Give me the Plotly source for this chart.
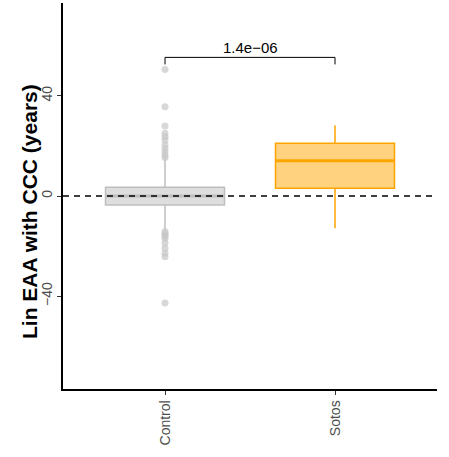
import plotly.graph_objects as go

# Group summary statistics (years)
groups = ["Control", "Sotos"]
q1 = [-3.6, 3.1]
median = [0.0, 14.1]
q3 = [3.5, 21.0]
lower_fence = [-13.5, -12.9]
upper_fence = [15.1, 28.2]

# Control outliers
control_outliers = [50.5, 35.6, 27.9, 25.0, 23.6, 22.3, 20.3, 19.0, 17.6, 16.3, 15.4,
                    -14.2, -15.0, -15.5, -16.2, -16.9, -18.8, -20.8, -22.8, -24.2, -42.7]

# Significance annotation
p_label = "1.4e\u221206"
bracket_y = 55.3
bracket_tip = 52.5

y_title = "Lin EAA with CCC (years)"

fill_colors = ["rgba(190,190,190,0.5)", "rgba(255,165,0,0.5)"]
line_colors = ["#BEBEBE", "#FFA500"]
box_width = 0.7

fig = go.Figure()

for i, g in enumerate(groups):
    fig.add_trace(go.Box(
        x=[g], q1=[q1[i]], median=[median[i]], q3=[q3[i]],
        lowerfence=[lower_fence[i]], upperfence=[upper_fence[i]],
        fillcolor=fill_colors[i], line=dict(color=line_colors[i], width=1.5),
        whiskerwidth=0, width=box_width, boxpoints=False, showlegend=False,
        hoverinfo="skip",
    ))
    # heavier median bar
    fig.add_shape(type="line", xref="x", yref="y",
                  x0=i - box_width / 2, x1=i + box_width / 2,
                  y0=median[i], y1=median[i],
                  line=dict(color=line_colors[i], width=3))

fig.add_trace(go.Scatter(
    x=["Control"] * len(control_outliers), y=control_outliers, mode="markers",
    marker=dict(color="rgba(200,200,200,0.7)", size=7, line=dict(width=0)),
    showlegend=False, hoverinfo="skip",
))

# Reference line at zero
fig.add_shape(type="line", xref="paper", x0=0, x1=1, yref="y", y0=0, y1=0,
              line=dict(color="black", width=1.5, dash="6px,5px"))

# Bracket
fig.add_trace(go.Scatter(
    x=["Control", "Control", "Sotos", "Sotos"],
    y=[bracket_tip, bracket_y, bracket_y, bracket_tip],
    mode="lines", line=dict(color="black", width=1),
    showlegend=False, hoverinfo="skip",
))
fig.add_annotation(x=0.5, y=bracket_y, xref="x", yref="y", text=p_label,
                   showarrow=False, yanchor="bottom", yshift=-1,
                   font=dict(family="Liberation Sans, Arial", size=15, color="black"))

# Y-axis title
fig.add_annotation(x=-0.091, y=0.461, xref="paper", yref="paper",
                   text=f"<b>{y_title}</b>", textangle=-90, showarrow=False,
                   xanchor="center", yanchor="middle",
                   font=dict(family="Liberation Sans, Arial", size=21, color="black"))

fig.update_layout(
    width=449, height=457,
    margin=dict(l=63, r=12, t=3, b=68),
    paper_bgcolor="white", plot_bgcolor="white",
    font=dict(family="Liberation Sans, Arial", size=14, color="#4D4D4D"),
)
fig.update_xaxes(
    type="category", range=[-0.6, 1.6], showgrid=False, zeroline=False,
    showline=True, linecolor="black", linewidth=1.5,
    ticks="outside", ticklen=4, tickcolor="#333333", tickwidth=1,
    tickangle=-90, tickfont=dict(size=14, color="#4D4D4D"),
)
fig.update_yaxes(
    range=[-77, 77], tickvals=[-40, 0, 40], ticktext=["\u221240", "0", "40"],
    showgrid=False, zeroline=False,
    showline=True, linecolor="black", linewidth=1.5,
    ticks="outside", ticklen=4, tickcolor="#333333", tickwidth=1,
    tickangle=-90, tickfont=dict(size=14, color="#4D4D4D"),
)

fig.write_html("out.html")
